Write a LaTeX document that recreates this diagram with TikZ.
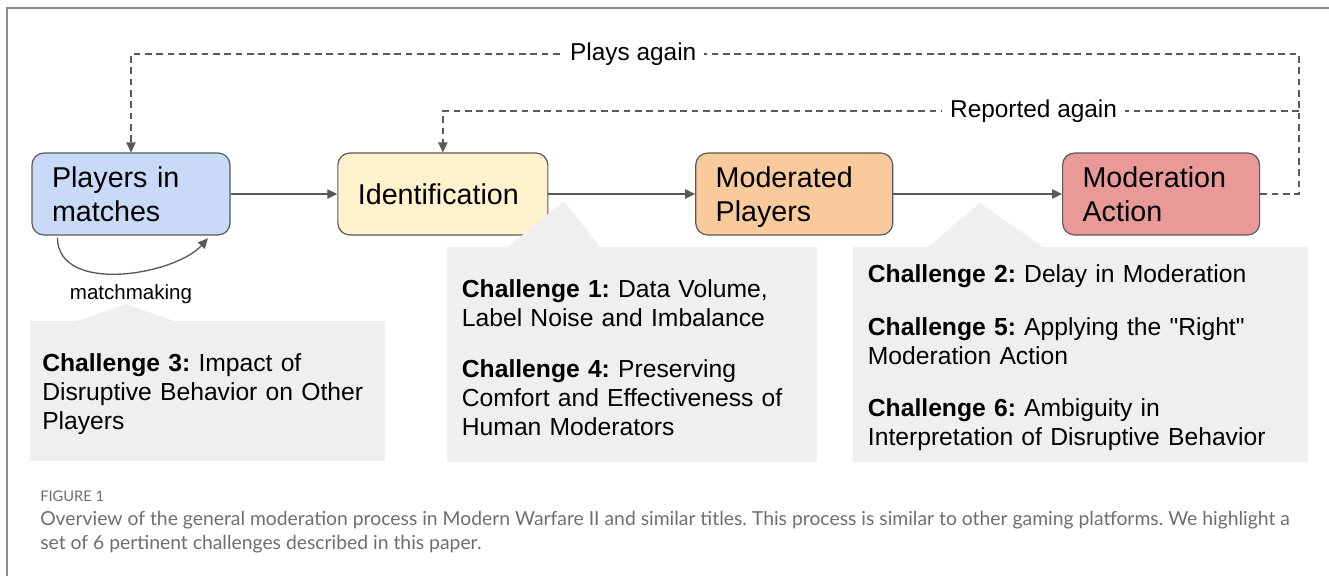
\documentclass[tikz,border=0pt]{standalone}
\usepackage{fontspec}
\setmainfont{Liberation Sans}
\newfontfamily\capfont{Lato}
\usetikzlibrary{arrows.meta, positioning}
\frenchspacing
\definecolor{linegray}{HTML}{595959}
\definecolor{framegray}{HTML}{8A8A8A}
\definecolor{boxblue}{HTML}{C9DAF8}
\definecolor{boxyellow}{HTML}{FFF2CC}
\definecolor{boxorange}{HTML}{F9CB9C}
\definecolor{boxred}{HTML}{EA9999}
\definecolor{notegray}{HTML}{EFEFEF}
\definecolor{capgray}{HTML}{6E6E6E}
\newcommand{\chal}[1]{\rule{0pt}{18pt}\textbf{Challenge #1:}}

\begin{document}
\begin{tikzpicture}[
  x=0.75pt, y=-0.75pt,
  >={Triangle[length=7.5pt,width=7pt]},
  stage/.style={draw=linegray, line width=0.9pt, rounded corners=9pt, align=left, minimum height=61.5pt, inner xsep=15pt, font=\fontsize{21.5}{25.5}\selectfont},
  note/.style={fill=notegray, anchor=north west, align=left, inner xsep=11pt, font=\fontsize{18.5}{21.75}\selectfont},
  flow/.style={->, draw=linegray, line width=1pt},
  back/.style={flow, dash pattern=on 5pt off 3.5pt},
  tag/.style={fill=white, inner xsep=6pt, font=\fontsize{18.3}{22}\selectfont}
]
\useasboundingbox (0,0) rectangle (1329,576);
\draw[framegray, line width=1.2pt] (7,576) -- (7,8) -- (1329,8);

% the four stages
\node[stage, fill=boxblue, text width=118.5pt] (pl) at (131,194) {Players in\\matches};
\node[stage, fill=boxyellow, text width=127.5pt, right=80pt of pl] (id) {Identification};
\node[stage, fill=boxorange, text width=117.75pt, right=110pt of id] (mp) {Moderated\\\smash{Players}};
\node[stage, fill=boxred, text width=117.75pt, right=126.5pt of mp] (ma) {Moderation\\Action};

\draw[flow] (pl) -- (id);
\draw[flow] (id) -- (mp);
\draw[flow] (mp) -- (ma);

% loops back
\coordinate (turn) at (1299,54);
\coordinate (fork) at (1299,111);
\draw[back] (ma.east) -| (turn) -- node[tag, pos=.57] {Plays again} (turn -| pl) -- (pl.north);
\draw[back] (fork) -- node[tag, pos=.31] {Reported again} (fork -| id) -- (id.north);

\draw[flow] ([xshift=19.5pt,yshift=-1.5pt]pl.south west) .. controls (58,295) and (175,275) .. ([xshift=-17pt,yshift=-2pt]pl.south east);
\node[font=\fontsize{15.4}{18}\selectfont] (mm) at (131,294) {matchmaking};

% challenge notes
\fill[notegray] (77,321) -- (126,304) -- (174,321) -- cycle;
\fill[notegray] (508,247) -- (564,201) -- (600,247) -- cycle;
\fill[notegray] (928,247) -- (980,203) -- (1043,247) -- cycle;

\node[note, inner xsep=9pt, text width=248pt, minimum height=105pt] (c3) at (30,321)
  {\chal{3} Impact of\\Disruptive Behavior on Other\\Players};
\node[note, text width=255pt, minimum height=161.25pt] (c14) at (447,247)
  {\chal{1} Data Volume,\\Label Noise and Imbalance\\[17pt]
   \chal{4} Preserving\\Comfort and Effectiveness of\\Human Moderators};
\node[note, text width=319pt, minimum height=161.25pt] (c256) at (853,247)
  {\chal{2} Delay in Moderation\\[17pt]
   \chal{5} Applying the \textquotedbl Right\textquotedbl\\Moderation Action\\[17pt]
   \chal{6} Ambiguity in\\Interpretation of Disruptive Behavior};

% caption
\node[anchor=west, inner sep=0, text=capgray, font=\capfont\fontsize{11}{13}\selectfont] (fig) at (40,496) {FIGURE 1};
\node[anchor=north west, inner sep=0, align=left, text=capgray, font=\capfont\fontsize{14.5}{18}\selectfont] (cap) at (40,511)
  {Overview of the general moderation process in Modern Warfare II and similar titles. This process is similar to other gaming platforms. We highlight a\\
   set of 6 pertinent challenges described in this paper.};
\end{tikzpicture}
\end{document}
